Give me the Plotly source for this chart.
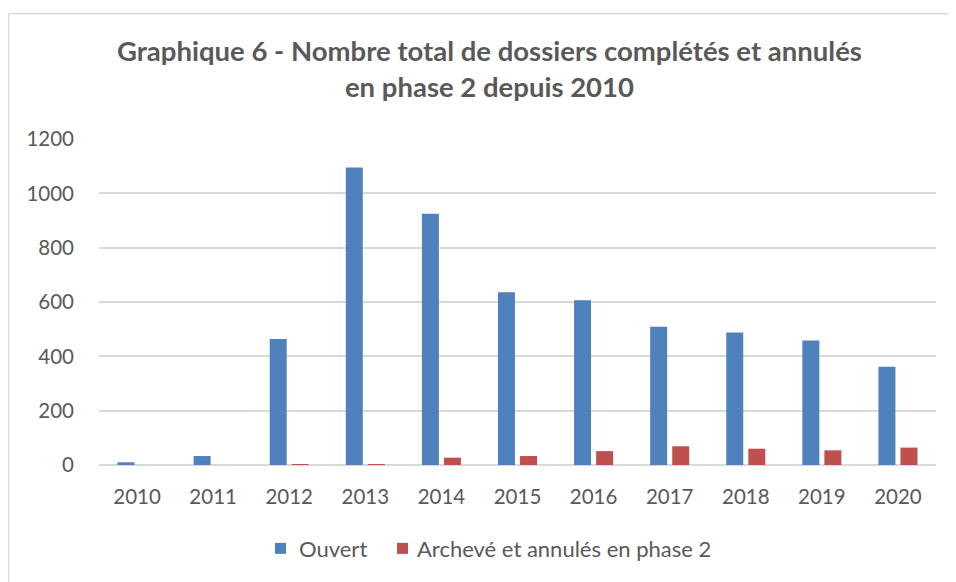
import plotly.graph_objects as go

years = ["2010", "2011", "2012", "2013", "2014", "2015", "2016", "2017", "2018", "2019", "2020"]
ouvert = [10, 33, 464, 1095, 925, 636, 606, 509, 488, 458, 362]
archeve = [0, 0, 2, 2, 27, 33, 51, 69, 60, 54, 64]
y_ticks = [0, 200, 400, 600, 800, 1000, 1200]
series_names = ["Ouvert", "Archevé et annulés en phase 2"]
series_colors = ["#4F81BD", "#C0504D"]

title_text = "Graphique 6 - Nombre total de dossiers complétés et annulés<br>en phase 2 depuis 2010"
text_color = "#595959"
font_family = "Lato, 'Open Sans', sans-serif"

# page body adds an 8px offset; work in reference-page pixels and shift
OFF = 8
W, H = 956 - OFF, 582 - OFF
L, T = 99 - OFF, 138.5 - OFF
R = W - (936 - OFF)
B = H - (465 - OFF)
pw = W - L - R
ph = H - T - B

def px(x):
    return (x - OFF - L) / pw

def py(y):
    return (H - B - (y - OFF)) / ph

fig = go.Figure()
for name, vals, col in zip(series_names, [ouvert, archeve], series_colors):
    fig.add_trace(go.Bar(x=years, y=vals, name=name, marker=dict(color=col, line=dict(width=0))))

# legend drawn as squares + labels
legend_items = [(275, 297), (397, 415)]
shapes = [
    dict(type="line", xref="paper", yref="paper", x0=px(8), x1=px(970), y0=py(13), y1=py(13),
         line=dict(color="#d9d9d9", width=1.5)),
    dict(type="line", xref="paper", yref="paper", x0=px(8.5), x1=px(8.5), y0=py(13), y1=py(600),
         line=dict(color="#d9d9d9", width=1.5)),
]
annotations = [dict(
    text=title_text, xref="paper", yref="paper", x=px(489.5), y=py(67.5),
    xanchor="center", yanchor="middle", showarrow=False,
    font=dict(size=27.5, color=text_color, family=font_family, weight="bold"),
    align="center",
)]
for (sx, tx), name, col in zip(legend_items, series_names, series_colors):
    shapes.append(dict(type="rect", xref="paper", yref="paper",
                       x0=px(sx), x1=px(sx + 11), y0=py(554), y1=py(543),
                       fillcolor=col, line=dict(width=0)))
    annotations.append(dict(text=name, xref="paper", yref="paper", x=px(tx), y=py(549),
                            xanchor="left", yanchor="middle", showarrow=False,
                            font=dict(size=22, color=text_color, family=font_family)))

fig.update_layout(
    width=W, height=H,
    margin=dict(l=L, r=R, t=T, b=B, autoexpand=False),
    paper_bgcolor="white", plot_bgcolor="white",
    barmode="group", bargap=0.42, bargroupgap=0.23,
    font=dict(family=font_family, color=text_color, size=20),
    showlegend=False,
    annotations=annotations,
    shapes=shapes,
)
fig.update_yaxes(
    range=[0, 1200], tickvals=y_ticks, showgrid=True, gridcolor="#d9d9d9", gridwidth=1.5,
    zeroline=True, zerolinecolor="#d9d9d9", zerolinewidth=1.5, showline=False,
    ticks="", ticklabelstandoff=24, tickfont=dict(size=20.5, color=text_color),
)
fig.update_xaxes(
    showgrid=False, showline=False, ticks="", ticklabelstandoff=17,
    tickfont=dict(size=20.5, color=text_color),
)

fig.write_html("out.html")
